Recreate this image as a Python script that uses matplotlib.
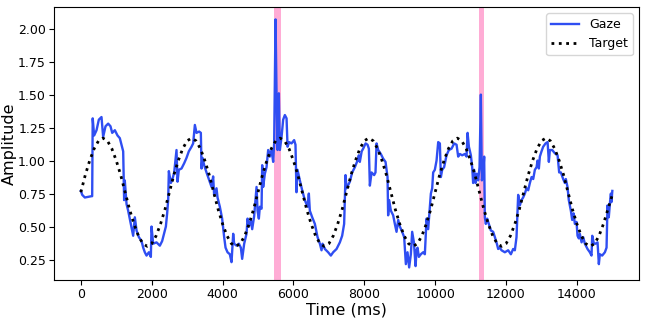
import numpy as np
import matplotlib
matplotlib.use("Agg")
import matplotlib.pyplot as plt

# gaze trace (ms, amplitude)
gaze_t = [0, 40, 113, 300, 320, 335, 375, 443, 508, 583, 630, 697, 771, 837, 885, 960,
          1035, 1100, 1148, 1195, 1222, 1240, 1290, 1336, 1411, 1477, 1524, 1572, 1637,
          1713, 1760, 1806, 1854, 1920, 1976, 1995, 2041, 2136, 2230, 2295, 2370, 2400,
          2436, 2465, 2484, 2540, 2576, 2635, 2700, 2729, 2766, 2842, 2917, 2982, 3048,
          3124, 3170, 3218, 3265, 3339, 3387, 3406, 3434, 3480, 3547, 3612, 3689, 3734,
          3762, 3829, 3858, 3923, 3988, 4045, 4084, 4140, 4205, 4253, 4300, 4327, 4394,
          4460, 4516, 4553, 4610, 4676, 4705, 4742, 4798, 4836, 4892, 4959, 4987, 5024,
          5052, 5100, 5118, 5146, 5193, 5241, 5287, 5334, 5382, 5428, 5456, 5495, 5523,
          5552, 5589, 5617, 5665, 5710, 5758, 5806, 5834, 5880, 5946, 6020, 6058, 6086,
          6115, 6181, 6247, 6322, 6398, 6435, 6463, 6530, 6605, 6680, 6746, 6793, 6821,
          6887, 6980, 7056, 7121, 7217, 7310, 7375, 7431, 7470, 7500, 7593, 7657, 7734,
          7808, 7846, 7874, 7926, 7968, 8036, 8092, 8129, 8157, 8205, 8278, 8316, 8346,
          8392, 8467, 8532, 8599, 8656, 8673, 8702, 8750, 8815, 8862, 8910, 8957, 9004,
          9069, 9125, 9173, 9220, 9266, 9314, 9351, 9400, 9447, 9475, 9503, 9540, 9596,
          9661, 9709, 9757, 9803, 9879, 9916, 9944, 9991, 10039, 10086, 10133, 10161,
          10198, 10253, 10321, 10386, 10462, 10537, 10604, 10650, 10697, 10762, 10838,
          10886, 10915, 10952, 11008, 11045, 11072, 11100, 11140, 11176, 11213, 11253,
          11290, 11318, 11355, 11383, 11402, 11430, 11468, 11515, 11572, 11637, 11685,
          11741, 11778, 11826, 11873, 11967, 12060, 12137, 12202, 12249, 12296, 12343,
          12390, 12437, 12483, 12532, 12579, 12626, 12673, 12721, 12767, 12814, 12862,
          12890, 12927, 12955, 13002, 13049, 13116, 13173, 13209, 13237, 13303, 13380,
          13455, 13500, 13548, 13613, 13660, 13688, 13735, 13772, 13830, 13867, 13906,
          13943, 13990, 14018, 14055, 14083, 14132, 14178, 14225, 14300, 14366, 14413,
          14433, 14480, 14527, 14583, 14620, 14648, 14714, 14790, 14837, 14864, 14900,
          14940, 14960, 14975, 15000]
gaze_y = [0.77, 0.74, 0.72, 0.73, 0.73, 1.32, 1.19, 1.23, 1.31, 1.33, 1.18, 1.26, 1.28, 1.26, 1.21, 1.23,
          1.19, 1.17, 1.12, 1.07, 0.70, 0.85, 0.67, 0.62, 0.52, 0.43, 0.57, 0.47, 0.42,
          0.39, 0.34, 0.305, 0.28, 0.305, 0.27, 0.50, 0.37, 0.38, 0.355, 0.39, 0.47, 0.50,
          0.60, 0.70, 0.92, 0.83, 0.85, 0.91, 1.08, 0.84, 0.93, 0.94, 0.98, 1.02, 1.07,
          1.105, 1.13, 1.27, 1.21, 1.22, 1.21, 0.94, 1.02, 0.965, 0.91, 0.86, 0.80, 0.88,
          0.74, 0.79, 0.72, 0.65, 0.56, 0.42, 0.34, 0.305, 0.29, 0.23, 0.445, 0.37, 0.355,
          0.37, 0.34, 0.255, 0.37, 0.445, 0.56, 0.50, 0.55, 0.48, 0.58, 0.80, 0.62, 0.56,
          0.65, 0.635, 0.965, 0.80, 0.90, 0.95, 1.08, 1.03, 1.08, 0.99, 1.13, 2.07, 1.51,
          1.08, 1.51, 1.08, 1.18, 1.31, 1.345, 1.32, 1.105, 1.14, 1.13, 1.155, 1.12, 0.76,
          0.93, 0.85, 0.775, 0.70, 0.65, 0.75, 0.62, 0.57, 0.52, 0.42, 0.37, 0.32, 0.37,
          0.33, 0.305, 0.28, 0.305, 0.33, 0.38, 0.43, 0.52, 0.89, 0.79, 0.84, 0.91, 0.95,
          1.00, 1.04, 0.99, 1.07, 1.09, 1.13, 1.12, 1.09, 0.81, 0.91, 0.89, 0.91, 1.13,
          1.08, 1.05, 1.015, 0.99, 0.875, 0.585, 0.70, 0.62, 0.585, 0.52, 0.46, 0.55, 0.50,
          0.46, 0.42, 0.215, 0.305, 0.19, 0.29, 0.46, 0.38, 0.20, 0.32, 0.34, 0.27, 0.29,
          0.305, 0.29, 0.56, 0.48, 0.75, 0.79, 0.91, 0.93, 1.00, 1.14, 1.13, 0.875,
          0.93, 0.95, 1.04, 1.08, 1.09, 1.13, 1.12, 1.03, 1.05, 1.04, 1.05,
          1.03, 1.21, 1.105, 1.04, 0.95, 0.83, 0.93, 0.83, 0.90, 0.85, 0.95,
          1.50, 0.85, 0.90, 1.03, 0.57, 0.52, 0.56, 0.52, 0.47, 0.46, 0.42,
          0.37, 0.33, 0.34, 0.32, 0.305, 0.32, 0.29, 0.33, 0.32, 0.42, 0.74,
          0.66, 0.70, 0.72, 0.75, 0.79, 0.775, 0.83, 0.875, 0.86, 0.93, 0.95,
          1.00, 0.94, 1.03, 1.07, 1.105, 1.13, 1.14, 0.99, 1.08, 1.08, 1.055,
          1.04, 0.91, 0.91, 0.86, 0.83, 0.86, 0.80, 0.70, 0.62, 0.55, 0.60,
          0.52, 0.535, 0.43, 0.41, 0.445, 0.38, 0.42, 0.37, 0.33, 0.305, 0.28,
          0.43, 0.37, 0.37, 0.38, 0.215, 0.29, 0.28, 0.305, 0.34, 0.66, 0.57,
          0.70, 0.75, 0.685, 0.77]

# target trace, sampled every 125 ms
target_t = np.arange(0, 15001, 125)
target_y = [0.76, 0.89, 1.00, 1.09, 1.15, 1.17, 1.15, 1.09, 1.00, 0.89, 0.76, 0.63, 0.52, 0.43, 0.37, 0.35, 0.37, 0.43, 0.52, 0.63,
            0.76, 0.89, 1.00, 1.09, 1.15, 1.17, 1.15, 1.09, 1.00, 0.89, 0.76, 0.63, 0.52, 0.43, 0.37, 0.35, 0.37, 0.43, 0.52, 0.63,
            0.76, 0.89, 1.00, 1.09, 1.15, 1.17, 1.15, 1.09, 1.00, 0.89, 0.76, 0.63, 0.52, 0.43, 0.37, 0.35, 0.37, 0.43, 0.52, 0.63,
            0.76, 0.89, 1.00, 1.09, 1.15, 1.17, 1.15, 1.09, 1.00, 0.89, 0.76, 0.63, 0.52, 0.43, 0.37, 0.35, 0.37, 0.43, 0.52, 0.63,
            0.76, 0.89, 1.00, 1.09, 1.15, 1.17, 1.15, 1.09, 1.00, 0.89, 0.76, 0.63, 0.52, 0.43, 0.37, 0.35, 0.37, 0.43, 0.52, 0.63,
            0.76, 0.89, 1.00, 1.09, 1.15, 1.17, 1.15, 1.09, 1.00, 0.89, 0.76, 0.63, 0.52, 0.43, 0.37, 0.35, 0.37, 0.43, 0.52, 0.63,
            0.74]

# blink / saccade windows (ms)
bands = [(5460, 5660), (11245, 11390)]

fig = plt.figure(figsize=(6.46, 3.18), dpi=100)
ax = fig.add_axes([0.084, 0.12, 0.905, 0.858])
for a, b in bands:
    ax.axvspan(a, b, color="hotpink", alpha=0.55, lw=0)
ax.plot(gaze_t, gaze_y, color="#2f4ef2", lw=1.7, label="Gaze")
ax.plot(target_t, target_y, color="black", ls=":", lw=2, label="Target")
ax.set_xlabel("Time (ms)", fontsize=11.5, labelpad=1)
ax.set_ylabel("Amplitude", fontsize=11.5, labelpad=1)
ax.tick_params(labelsize=9, pad=2.5)
ax.set_yticks([0.25, 0.5, 0.75, 1.0, 1.25, 1.5, 1.75, 2.0])
ax.legend(loc="upper right", fontsize=9, handlelength=2.2)
fig.savefig("out.png", dpi=100)
